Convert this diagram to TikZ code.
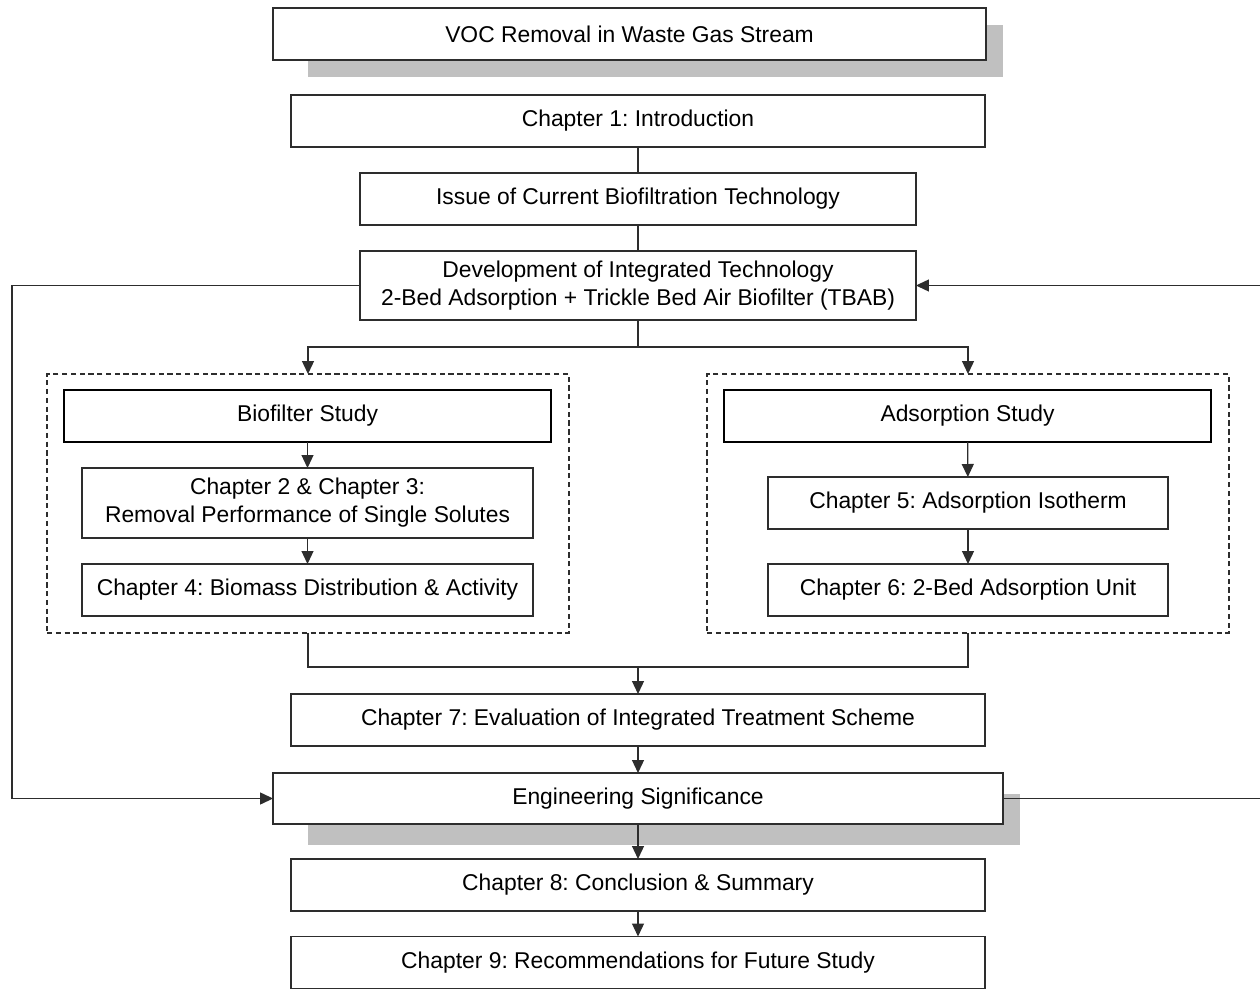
\documentclass[tikz,border=0pt]{standalone}
\usepackage{fontspec}
\setmainfont{Liberation Sans}
\usetikzlibrary{calc,arrows.meta}
\definecolor{lngray}{RGB}{45,45,45}
\definecolor{shgray}{RGB}{192,192,192}
\frenchspacing

\begin{document}
\begin{tikzpicture}[x=0.02cm,y=-0.02cm,
    box/.style={draw=lngray, line width=0.7pt, fill=white, inner sep=0pt, outer sep=0pt,
      minimum height=1.04cm, align=center, font=\fontsize{13}{16}\selectfont},
    headbox/.style={box, draw=black, line width=1.1pt},
    group/.style={draw=lngray, line width=0.7pt, dash pattern=on 3pt off 2pt,
      inner sep=0pt, outer sep=0pt, minimum width=10.44cm, minimum height=5.18cm},
    link/.style={draw=lngray, line width=0.7pt},
    arr/.style={link, -{Triangle[length=2.6mm,width=2.4mm]}}]
      \useasboundingbox (0,0) rectangle (1260,989);
      \fill[white] (0,0) rectangle (1260,989);

      \fill[shgray] ($(273,60)+(35,17)$) rectangle ($(986,8)+(17,17)$);
      \node[box, minimum width=14.26cm] (voc) at (629.5,34) {VOC Removal in Waste Gas Stream};
      \node[box, minimum width=13.88cm] (ch1) at (638,121) {Chapter 1: Introduction};
      \node[box, minimum width=11.12cm] (issue) at (638,199) {Issue of Current Biofiltration Technology};
      \node[box, minimum width=11.12cm, minimum height=1.38cm] (dev) at (638,285.5)
        {Development of Integrated Technology\\2-Bed Adsorption + Trickle Bed Air Biofilter (TBAB)};

      \node[group] (bgroup) at (308,503.5) {};
      \node[headbox, minimum width=9.74cm] (bio) at (307.5,416) {Biofilter Study};
      \node[box, minimum width=9.02cm, minimum height=1.40cm] (ch23) at (307.5,503)
        {Chapter 2 \& Chapter 3:\\Removal Performance of Single Solutes};
      \node[box, minimum width=9.02cm] (ch4) at (307.5,590) {Chapter 4: Biomass Distribution \& Activity};

      \node[group] (agroup) at (968,503.5) {};
      \node[headbox, minimum width=9.74cm] (ads) at (967.5,416) {Adsorption Study};
      \node[box, minimum width=8cm] (ch5) at (968,503) {Chapter 5: Adsorption Isotherm};
      \node[box, minimum width=8cm] (ch6) at (968,590) {Chapter 6: 2-Bed Adsorption Unit};

      \node[box, minimum width=13.88cm] (ch7) at (638,720) {Chapter 7: Evaluation of Integrated Treatment Scheme};
      \fill[shgray] ($(273,824)+(35,21)$) rectangle ($(1003,773)+(17,21)$);
      \node[box, minimum width=14.6cm, minimum height=1.02cm] (eng) at (638,798.5) {Engineering Significance};
      \node[box, minimum width=13.88cm] (ch8) at (638,885) {Chapter 8: Conclusion \& Summary};
      \node[box, minimum width=13.88cm] (ch9) at (638,962.5) {Chapter 9: Recommendations for Future Study};

      \coordinate (split) at (638,347);
      \coordinate (merge) at (638,667);
      \coordinate (lft) at (12,0);
      \coordinate (rgt) at (1260,0);

      \draw[link] (ch1) -- (issue);
      \draw[link] (issue) -- (dev);
      \draw[link] (dev.south) -- (split);
      \draw[arr] (split) -| (bgroup.north);
      \draw[arr] (split) -| (agroup.north);
      \draw[arr] (bio) -- (ch23);
      \draw[arr] (ch23) -- (ch4);
      \draw[arr] (ads) -- (ch5);
      \draw[arr] (ch5) -- (ch6);
      \draw[link] (bgroup.south) |- (merge) -| (agroup.south);
      \draw[arr] (merge) -- (ch7.north);
      \draw[arr] (ch7) -- (eng);
      \draw[arr] (eng) -- (ch8);
      \draw[arr] (ch8) -- (ch9);
      \draw[arr] (dev.west) -- (dev.west -| lft) |- (eng.west);
      \draw[link] (eng.east) -- (eng.east -| rgt);
      \draw[arr] (dev.east -| rgt) -- (dev.east);

    \end{tikzpicture}
\end{document}
